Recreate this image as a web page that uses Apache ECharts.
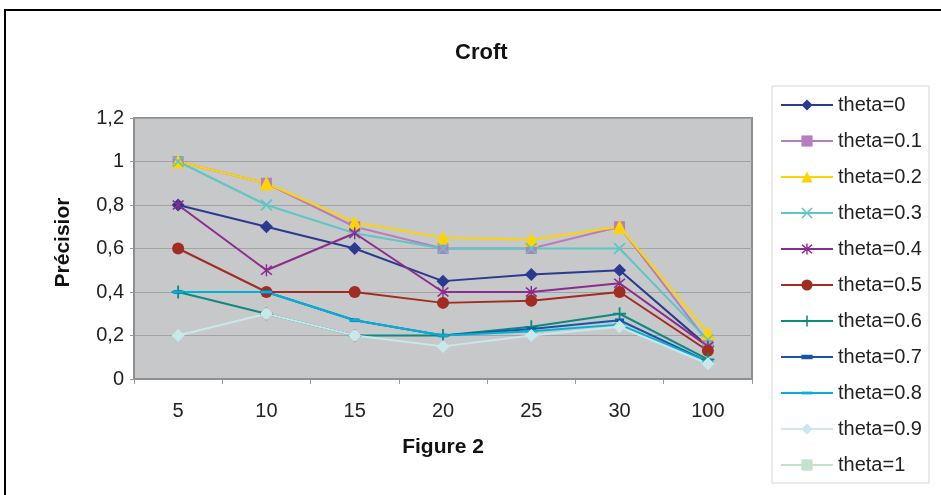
<!DOCTYPE html>
<html>
<head>
<meta charset="utf-8">
<script src="https://cdn.jsdelivr.net/npm/echarts@6/dist/echarts.min.js"></script>
<style>
  html, body { margin: 0; padding: 0; background: #fff; }
  #main { width: 941px; height: 495px; }
</style>
</head>
<body>
<div id="main"></div>
<script>
// categories (x) and one array per series
const categories = ['5', '10', '15', '20', '25', '30', '100'];
const theta0  = [0.8, 0.7, 0.6, 0.45, 0.48, 0.5, 0.15];
const theta01 = [1, 0.9, 0.7, 0.6, 0.6, 0.7, 0.17];
const theta02 = [1, 0.9, 0.72, 0.65, 0.64, 0.7, 0.21];
const theta03 = [1, 0.8, 0.67, 0.6, 0.6, 0.6, 0.18];
const theta04 = [0.8, 0.5, 0.67, 0.4, 0.4, 0.44, 0.15];
const theta05 = [0.6, 0.4, 0.4, 0.35, 0.36, 0.4, 0.13];
const theta06 = [0.4, 0.3, 0.2, 0.2, 0.24, 0.3, 0.09];
const theta07 = [0.4, 0.4, 0.27, 0.2, 0.23, 0.27, 0.08];
const theta08 = [0.4, 0.4, 0.27, 0.2, 0.22, 0.25, 0.08];
const theta09 = [0.2, 0.3, 0.2, 0.15, 0.2, 0.24, 0.07];
const theta1  = [null, null, null, null, null, null, null]; // no points drawn

const seriesNames = ['theta=0', 'theta=0.1', 'theta=0.2', 'theta=0.3', 'theta=0.4', 'theta=0.5',
  'theta=0.6', 'theta=0.7', 'theta=0.8', 'theta=0.9', 'theta=1'];
const yTicks = [0, 0.2, 0.4, 0.6, 0.8, 1, 1.2];

// marker shapes
const xMark = 'path://M1,0L5,4L9,0L10,1L6,5L10,9L9,10L5,6L1,10L0,9L4,5L0,1Z';
const starMark = 'path://M1,0L5,4L9,0L10,1L6,5L10,9L9,10L5,6L1,10L0,9L4,5L0,1Z M4.4,-1H5.6V11H4.4Z';
const plusMark = 'path://M4.3,0H5.7V4.3H10V5.7H5.7V10H4.3V5.7H0V4.3H4.3Z';
// square bounds (empty moveTo) so the dash stays flat in the legend too
const dashMark = 'path://M0,0M10,10M0,3H10V7H0Z';
const thinDash = 'path://M0,0M12,12M0,4.5H12V7.5H0Z';

const styles = [
  { data: theta0,  color: '#2A3A8E', symbol: 'diamond', size: 13 },
  { data: theta01, color: '#B67EBE', symbol: 'rect', size: 11 },
  { data: theta02, color: '#FFD400', symbol: 'triangle', size: 14 },
  { data: theta03, color: '#5EC6C4', symbol: xMark, size: 12 },
  { data: theta04, color: '#8A2D8E', symbol: starMark, size: 12 },
  { data: theta05, color: '#A12C22', symbol: 'circle', size: 12 },
  { data: theta06, color: '#0C8A80', symbol: plusMark, size: 13 },
  { data: theta07, color: '#1656A8', symbol: dashMark, size: 9 },
  { data: theta08, color: '#00B2D6', symbol: thinDash, size: 11 },
  { data: theta09, color: '#C8E8EA', symbol: 'diamond', size: 13 },
  { data: theta1,  color: '#C2E2CA', symbol: 'rect', size: 10 }
];

const font = 'Liberation Sans, Arial, sans-serif';

var myChart = echarts.init(document.getElementById('main'));

var option = {
  animation: false,
  title: {
    text: 'Croft',
    left: 450,
    top: 37,
    textStyle: { fontFamily: font, fontSize: 22, fontWeight: 'bold', color: '#111' }
  },
  graphic: [
    {
      type: 'rect',
      shape: { x: 5, y: 10, width: 1000, height: 1000 },
      style: { fill: 'none', stroke: '#000', lineWidth: 2 },
      silent: true
    }
  ],
  legend: {
    orient: 'vertical',
    left: 772,
    top: 86,
    padding: [9, 7, 8, 8],
    itemWidth: 52,
    itemHeight: 14,
    itemGap: 16,
    borderColor: '#d6d6d6',
    borderWidth: 1,
    data: seriesNames,
    textStyle: { fontFamily: font, fontSize: 20, color: '#222', lineHeight: 20 }
  },
  grid: {
    left: 134,
    right: 189,
    top: 118,
    bottom: 116,
    show: true,
    backgroundColor: '#C7C8CA',
    borderColor: '#8f8f8f',
    borderWidth: 2
  },
  xAxis: {
    type: 'category',
    data: categories,
    boundaryGap: true,
    name: 'Figure 2',
    nameLocation: 'middle',
    nameGap: 58,
    nameTextStyle: { fontFamily: font, fontSize: 21, fontWeight: 'bold', color: '#111' },
    axisLine: { lineStyle: { color: '#8f8f8f', width: 1 } },
    axisTick: { show: true, alignWithLabel: false, length: 5, lineStyle: { color: '#999' } },
    axisLabel: { fontFamily: font, fontSize: 20, color: '#222', margin: 22 }
  },
  yAxis: {
    type: 'value',
    min: yTicks[0],
    max: yTicks[yTicks.length - 1],
    interval: 0.2,
    name: 'Précisior',
    nameLocation: 'middle',
    nameGap: 60,
    nameTextStyle: { fontFamily: font, fontSize: 21, fontWeight: 'bold', color: '#111', padding: [0, 0, 0, 12] },
    axisLine: { show: true, lineStyle: { color: '#8f8f8f' } },
    axisTick: { show: true, length: 4, lineStyle: { color: '#999' } },
    splitLine: { lineStyle: { color: '#A2A3A5', width: 1 } },
    axisLabel: {
      fontFamily: font, fontSize: 20, color: '#222', margin: 10,
      formatter: function (v) {
        return String(Math.round(v * 10) / 10).replace('.', ',');
      }
    }
  },
  series: styles.map(function (s, i) {
    return {
      name: seriesNames[i],
      type: 'line',
      data: s.data,
      symbol: s.symbol,
      symbolSize: s.size,
      showAllSymbol: true,
      lineStyle: { color: s.color, width: 2 },
      itemStyle: { color: s.color },
      emphasis: { disabled: true }
    };
  })
};

option && myChart.setOption(option);
</script>
</body>
</html>
